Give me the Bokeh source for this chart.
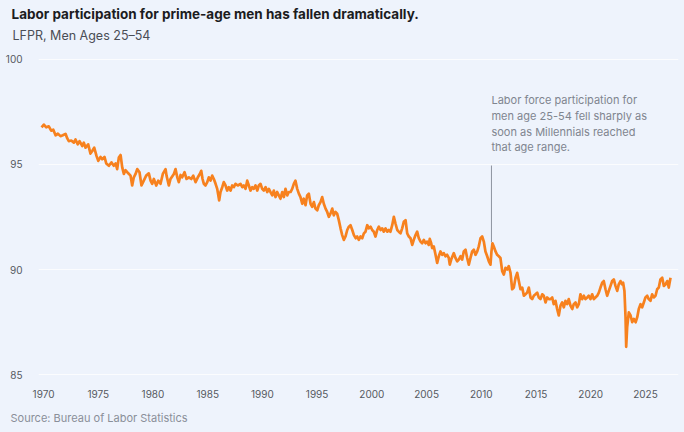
from bokeh.plotting import figure
from bokeh.models import FixedTicker, Label, Title
from bokeh.embed import file_html
from bokeh.resources import INLINE

# ---- data ----
years = [
 1969.82,1970.03,1970.25,1970.48,1970.70,1970.89,1971.10,1971.31,1971.55,1971.76,
 1972.01,1972.17,1972.31,1972.53,1972.77,1972.92,1973.13,1973.29,1973.54,1973.68,
 1973.84,1974.08,1974.29,1974.45,1974.63,1974.84,1975.00,1975.21,1975.36,1975.57,
 1975.73,1975.97,1976.21,1976.42,1976.58,1976.73,1976.88,1977.04,1977.19,1977.34,
 1977.49,1977.74,1977.95,1978.10,1978.25,1978.41,1978.56,1978.77,1978.95,1979.16,
 1979.38,1979.62,1979.78,1979.93,1980.08,1980.30,1980.48,1980.69,1980.90,1981.15,
 1981.24,1981.45,1981.60,1981.91,1982.06,1982.22,1982.36,1982.52,1982.67,1982.88,
 1983.07,1983.28,1983.50,1983.68,1983.89,1984.10,1984.28,1984.41,1984.53,1984.65,
 1984.80,1984.96,1985.10,1985.26,1985.41,1985.56,1985.72,1985.87,1986.05,1986.17,
 1986.33,1986.47,1986.63,1986.78,1986.93,1987.09,1987.24,1987.39,1987.54,1987.75,
 1988.00,1988.16,1988.30,1988.46,1988.61,1988.76,1988.91,1989.07,1989.21,1989.37,
 1989.53,1989.67,1989.83,1989.98,1990.13,1990.29,1990.44,1990.59,1990.74,1990.90,
 1991.04,1991.20,1991.35,1991.50,1991.65,1991.81,1991.96,1992.11,1992.27,1992.41,
 1992.57,1992.72,1992.87,1993.02,1993.18,1993.33,1993.48,1993.64,1993.78,1993.94,
 1994.09,1994.24,1994.40,1994.55,1994.70,1994.85,1995.01,1995.15,1995.31,1995.46,
 1995.61,1995.77,1995.92,1996.07,1996.22,1996.38,1996.52,1996.68,1996.83,1996.98,
 1997.14,1997.29,1997.44,1997.59,1997.75,1997.90,1998.05,1998.21,1998.36,1998.52,
 1998.66,1998.81,1998.96,1999.12,1999.27,1999.42,1999.58,1999.72,1999.88,2000.03,
 2000.18,2000.33,2000.49,2000.64,2000.79,2000.95,2001.09,2001.25,2001.40,2001.55,
 2001.70,2001.86,2002.01,2002.16,2002.32,2002.46,2002.62,2002.77,2002.92,2003.08,
 2003.23,2003.38,2003.53,2003.69,2003.83,2003.99,2004.14,2004.29,
 2004.45,2004.60,2004.75,2004.90,2005.06,2005.20,2005.29,2005.42,2005.51,2005.66,
 2005.82,2005.97,2006.12,2006.27,2006.43,2006.57,2006.73,2006.88,2007.03,2007.12,
 2007.25,2007.37,2007.49,2007.64,2007.80,2007.94,2008.10,2008.25,2008.40,2008.56,
 2008.71,2008.86,2009.01,2009.17,2009.32,2009.47,2009.63,2009.77,2009.93,2010.08,
 2010.23,2010.38,2010.54,2010.69,2010.84,2010.93,2011.02,2011.14,2011.30,2011.45,
 2011.60,2011.75,2011.91,2012.06,2012.21,2012.37,2012.51,2012.67,2012.82,2012.97,
 2013.13,2013.28,2013.43,2013.58,2013.74,2013.89,2014.04,2014.19,2014.34,2014.50,
 2014.65,2014.80,2014.95,2015.11,2015.25,2015.41,2015.57,2015.71,2015.87,2016.02,
 2016.17,2016.32,2016.48,2016.62,2016.78,2016.93,2017.08,2017.24,2017.39,2017.54,
 2017.69,2017.85,2017.99,2018.15,2018.31,2018.45,2018.61,2018.76,2018.91,2019.06,
 2019.22,2019.37,2019.52,2019.68,2019.82,2019.98,2020.13,2020.28,2020.43,2020.59,
 2020.74,2020.89,2021.05,2021.19,2021.35,2021.50,2021.65,2021.81,2021.96,2022.11,
 2022.26,2022.42,2022.56,2022.72,2022.87,2022.96,2023.08,2023.18,2023.24,2023.33,
 2023.48,2023.64,2023.79,2023.94,2024.10,2024.25,2024.39,2024.55,2024.70,2024.85,
 2025.00,2025.16,2025.30,2025.46,2025.61,2025.76,2025.92,2026.07,2026.22,2026.37,
 2026.53,2026.68,2026.83,2026.99,2027.13,2027.29,
]
lfpr = [
 96.77,96.90,96.77,96.82,96.61,96.66,96.39,96.47,96.35,96.39,
 96.46,96.24,96.11,96.14,96.04,96.19,95.96,96.11,95.88,96.04,
 95.80,95.96,95.52,95.64,95.80,95.41,95.17,95.36,95.25,95.36,
 95.05,94.94,95.10,94.94,95.05,94.78,95.33,95.45,94.86,94.55,
 94.73,94.58,94.47,94.00,94.39,94.55,94.78,94.63,94.00,94.23,
 94.47,94.58,94.23,94.08,94.31,94.00,94.23,94.08,94.55,94.78,
 94.47,94.00,94.31,94.55,94.78,94.39,94.16,94.50,94.39,94.63,
 94.31,94.39,94.31,94.47,94.16,94.39,94.55,94.70,94.31,94.08,
 94.00,94.16,94.39,94.23,94.47,94.31,94.08,93.84,93.29,93.69,
 93.92,94.16,94.00,93.76,93.92,93.76,94.00,93.92,94.08,94.00,
 94.08,93.92,94.00,93.84,94.23,94.00,93.76,93.92,93.84,94.00,
 93.76,94.00,94.08,93.84,93.76,93.92,93.69,93.84,93.69,93.53,
 93.76,93.45,93.69,93.53,93.37,93.69,93.45,93.84,93.53,93.69,
 93.69,93.84,94.08,94.23,93.84,93.61,93.45,93.13,93.37,93.06,
 93.53,93.61,93.13,92.98,93.21,92.90,92.82,93.06,93.21,93.45,
 93.13,92.90,92.74,92.51,92.66,92.90,92.58,92.74,92.66,92.35,
 91.96,91.64,91.41,91.57,91.88,92.04,92.11,91.88,91.64,91.49,
 91.57,91.41,91.57,91.49,91.72,91.80,92.11,91.96,92.04,91.88,
 91.80,91.57,91.88,92.04,91.88,91.96,91.80,91.96,91.80,91.88,
 91.80,92.11,92.51,92.19,91.88,91.80,91.72,91.96,92.27,92.35,
 91.72,91.57,91.49,91.17,91.41,91.64,91.80,91.49,
 91.33,91.25,91.41,91.25,91.33,91.17,91.46,91.25,91.02,91.10,
 90.70,90.31,90.63,90.86,90.70,90.78,90.63,90.70,90.55,90.23,
 90.47,90.63,90.78,90.55,90.39,90.47,90.63,90.47,90.86,90.94,
 90.55,90.23,90.55,90.86,90.94,90.70,90.86,91.10,91.49,91.57,
 91.33,90.86,90.63,90.39,90.23,90.86,91.25,91.10,90.86,90.70,
 90.63,90.55,89.92,89.76,90.08,90.00,90.16,89.84,89.06,89.14,
 89.61,89.84,89.45,89.06,89.14,88.75,88.82,88.90,89.14,88.67,
 88.59,88.75,88.82,88.90,88.67,88.59,88.82,88.75,88.43,88.67,
 88.59,88.59,88.67,88.35,88.51,88.12,87.81,88.28,88.43,88.20,
 88.51,88.35,88.59,88.28,88.12,88.35,88.43,88.20,88.35,88.82,
 88.59,88.75,88.59,88.67,88.75,88.59,88.82,88.59,88.67,88.75,
 88.90,89.14,89.37,89.45,89.06,88.75,88.98,89.22,89.45,89.53,
 89.22,88.98,89.29,89.45,89.29,89.37,88.98,87.73,86.32,87.26,
 87.96,87.81,87.49,87.65,87.49,87.73,88.12,88.35,88.20,88.43,
 88.67,88.75,88.59,88.51,88.82,88.67,88.75,89.06,89.14,89.53,
 89.61,89.22,89.29,89.45,89.14,89.61,
]
x_ticks = [1970, 1975, 1980, 1985, 1990, 1995, 2000, 2005, 2010, 2015, 2020, 2025]
y_ticks = [85, 90, 95, 100]

title_text = "Labor participation for prime-age men has fallen dramatically."
subtitle_text = "LFPR, Men Ages 25\u201354"
source_text = "Source: Bureau of Labor Statistics"
note_lines = [
    "Labor force participation for",
    "men age 25-54 fell sharply as",
    "soon as Millennials reached",
    "that age range.",
]
note_x = 2010.93
note_line_top = 94.95
note_line_bottom = 91.30
note_text_top = 98.07
note_text_step = 0.752

# ---- style ----
BG = "#EEF3FC"
ORANGE = "#F7811E"
FONT = "Inter"

p = figure(width=684, height=432, output_backend="svg", toolbar_location=None,
           x_range=(1969.54, 2028.02), y_range=(84.81, 100.19),
           min_border_left=38, min_border_right=6, min_border_top=55,
           min_border_bottom=50)
p.background_fill_color = BG
p.border_fill_color = BG
p.outline_line_color = None

p.xgrid.grid_line_color = None
p.ygrid.grid_line_color = "#FFFFFF"
p.ygrid.grid_line_alpha = 0.75
p.ygrid.grid_line_width = 1

for ax in (p.xaxis[0], p.yaxis[0]):
    ax.axis_line_color = None
    ax.major_tick_line_color = None
    ax.minor_tick_line_color = None
    ax.major_label_text_font = FONT
    ax.major_label_text_font_size = "10px"
    ax.major_label_text_color = "#555960"
p.xaxis[0].ticker = FixedTicker(ticks=x_ticks)
p.yaxis[0].ticker = FixedTicker(ticks=y_ticks)
p.xaxis[0].major_label_standoff = 5
p.yaxis[0].major_label_standoff = 10

p.line(years, lfpr, line_color=ORANGE, line_width=2.7, line_join="round")

p.segment(x0=[note_x], y0=[note_line_bottom], x1=[note_x], y1=[note_line_top],
          line_color="#8E94A0", line_width=1)

for i, t in enumerate(note_lines):
    p.add_layout(Label(x=note_x, y=note_text_top - i * note_text_step, text=t,
                       text_font=FONT, text_font_size="11px", text_color="#80858F",
                       text_baseline="middle", text_align="left"))

# titles: subtitle first (closest to the frame), then the main title above it
p.add_layout(Title(text=subtitle_text, align="left", offset=-26, standoff=25,
                   text_font=FONT, text_font_size="12.5px", text_font_style="normal",
                   text_color="#4A4D55"), "above")
p.add_layout(Title(text=title_text, align="left", offset=-27, standoff=-17,
                   text_font=FONT, text_font_size="13.5px", text_font_style="bold",
                   text_color="#1C1C1E"), "above")
p.add_layout(Title(text=source_text, align="left", offset=-28, standoff=16,
                   text_font=FONT, text_font_size="11px", text_font_style="normal",
                   text_color="#8A8F99"), "below")

html = file_html(p, INLINE)
html = html.replace("<head>", "<head><style>body{background:%s;}</style>" % BG, 1)
open("out.html", "w").write(html)
